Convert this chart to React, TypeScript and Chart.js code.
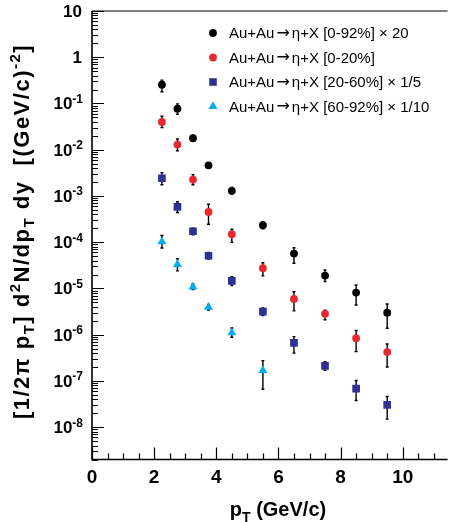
import React, { useEffect, useRef } from "react";
import { Chart, registerables } from "chart.js";

Chart.register(...registerables);

// ---- data ----
const pT = [2.25, 2.75, 3.25, 3.75, 4.5, 5.5, 6.5, 7.5, 8.5, 9.5];
const pTPeripheral = [2.25, 2.75, 3.25, 3.75, 4.5, 5.5];

const mbVals = [0.255, 0.0773, 0.0177, 0.00461, 0.00129, 2.33e-4, 5.67e-5, 1.9e-5, 8.15e-6, 3.0e-6];
const mbHi = [0.32, 0.098, 0.0205, 0.0052, 0.00152, 2.75e-4, 7.6e-5, 2.5e-5, 1.19e-5, 4.6e-6];
const mbLo = [0.18, 0.058, 0.0155, 0.004, 0.0011, 1.95e-4, 3.5e-5, 1.41e-5, 4.4e-6, 1.38e-6];

const centralVals = [0.04, 0.0129, 0.00226, 4.52e-4, 1.49e-4, 2.74e-5, 5.94e-6, 2.82e-6, 8.4e-7, 4.2e-7];
const centralHi = [0.053, 0.017, 0.0029, 6.6e-4, 1.9e-4, 3.6e-5, 8.5e-6, 3.4e-6, 1.23e-6, 6.3e-7];
const centralLo = [0.03, 0.0095, 0.00175, 2.45e-4, 1.0e-4, 1.87e-5, 3.27e-6, 2.1e-6, 4.3e-7, 2.0e-7];

const midVals = [2.42e-3, 5.8e-4, 1.73e-4, 5.1e-5, 1.46e-5, 3.16e-6, 6.65e-7, 2.12e-7, 6.84e-8, 3.04e-8];
const midHi = [3.2e-3, 7.5e-4, 2.0e-4, 6.0e-5, 1.8e-5, 3.8e-6, 9.1e-7, 2.6e-7, 1.02e-7, 4.6e-8];
const midLo = [1.75e-3, 4.4e-4, 1.45e-4, 4.3e-5, 1.15e-5, 2.6e-6, 4.0e-7, 1.7e-7, 3.77e-8, 1.49e-8];

const periphVals = [1.03e-4, 3.3e-5, 1.08e-5, 3.93e-6, 1.11e-6, 1.68e-7];
const periphHi = [1.4e-4, 4.4e-5, 1.25e-5, 4.5e-6, 1.4e-6, 2.75e-7];
const periphLo = [7.5e-5, 2.4e-5, 9.5e-6, 3.4e-6, 8.8e-7, 6.6e-8];

const seriesLabels = [
  "Au+Au\u2192\u03b7+X [0-92%] \u00d7 20",
  "Au+Au\u2192\u03b7+X [0-20%]",
  "Au+Au\u2192\u03b7+X [20-60%] \u00d7 1/5",
  "Au+Au\u2192\u03b7+X [60-92%] \u00d7 1/10",
];
const seriesColors = ["#000000", "#e8282e", "#2e3192", "#00aeef"];
const seriesStyles = ["circle", "circle", "rect", "triangle"];

const xMajorTicks = [0, 2, 4, 6, 8, 10];
const xMinorStep = 0.5;
const yDecades = [1, 0, -1, -2, -3, -4, -5, -6, -7, -8];

const X_MIN = 0;
const X_MAX = 11.38;
const Y_MIN = 2e-9;
const Y_MAX = 10;

const FONT = "'Liberation Sans', Arial, Helvetica, sans-serif";
const ARROW_FONT = "'DejaVu Sans', sans-serif";

function drawMarker(ctx: CanvasRenderingContext2D, style: string, x: number, y: number, color: string) {
  ctx.fillStyle = color;
  ctx.beginPath();
  if (style === "circle") {
    ctx.arc(x, y, 3.9, 0, Math.PI * 2);
  } else if (style === "rect") {
    ctx.rect(x - 3.8, y - 3.8, 7.6, 7.6);
  } else {
    const r = 5.2;
    ctx.moveTo(x, y - r);
    ctx.lineTo(x + r * 0.866, y + r * 0.5);
    ctx.lineTo(x - r * 0.866, y + r * 0.5);
    ctx.closePath();
  }
  ctx.fill();
}

function drawSegments(
  ctx: CanvasRenderingContext2D,
  segs: { t: string; s: number }[],
  size: number,
  startX: number,
  baseY: number,
  measureOnly = false,
  subDy = 0.3
) {
  let cx = startX;
  for (const seg of segs) {
    const fs = seg.s === 0 ? size : Math.round(size * 0.7);
    ctx.font = `bold ${fs}px ${FONT}`;
    const dy = seg.s === 1 ? -size * 0.42 : seg.s === -1 ? size * subDy : 0;
    if (!measureOnly) ctx.fillText(seg.t, cx, baseY + dy);
    cx += ctx.measureText(seg.t).width;
  }
  return cx - startX;
}

const customPlugin = {
  id: "rootStyle",
  beforeDatasetsDraw(chart: any) {
    const { ctx } = chart;
    const xs = chart.scales.x;
    const ys = chart.scales.y;
    ctx.save();
    ctx.strokeStyle = "#000";
    ctx.lineWidth = 1.4;
    chart.data.datasets.forEach((ds: any) => {
      ds.data.forEach((p: any, i: number) => {
        const px = xs.getPixelForValue(p.x);
        const yh = ys.getPixelForValue(ds.errHi[i]);
        const yl = ys.getPixelForValue(ds.errLo[i]);
        ctx.beginPath();
        ctx.moveTo(px, yh);
        ctx.lineTo(px, yl);
        ctx.moveTo(px - 1.5, yh);
        ctx.lineTo(px + 1.5, yh);
        ctx.moveTo(px - 1.5, yl);
        ctx.lineTo(px + 1.5, yl);
        ctx.stroke();
      });
    });
    ctx.restore();
  },
  afterDraw(chart: any) {
    const { ctx, chartArea } = chart;
    const xs = chart.scales.x;
    const ys = chart.scales.y;
    const L = chartArea.left;
    const R = chartArea.right;
    const T = chartArea.top;
    const B = chartArea.bottom;
    ctx.save();
    ctx.strokeStyle = "#000";
    ctx.fillStyle = "#000";

    // frame
    ctx.lineWidth = 1.6;
    ctx.beginPath();
    ctx.moveTo(L, T);
    ctx.lineTo(L, B);
    ctx.lineTo(R + 2, B);
    ctx.stroke();
    ctx.lineWidth = 1.2;
    ctx.beginPath();
    ctx.moveTo(L, T);
    ctx.lineTo(R + 2, T);
    ctx.stroke();

    // x ticks
    ctx.lineWidth = 1.2;
    ctx.beginPath();
    for (let v = X_MIN; v <= X_MAX + 1e-9; v += xMinorStep) {
      const px = Math.round(xs.getPixelForValue(v)) + 0.5;
      const major = xMajorTicks.some((m) => Math.abs(m - v) < 1e-6);
      const len = major ? 12 : 6;
      ctx.moveTo(px, B);
      ctx.lineTo(px, B - len);
    }
    ctx.stroke();

    // y ticks
    ctx.beginPath();
    for (let d = -9; d <= 1; d++) {
      for (let m = 1; m <= 9; m++) {
        const v = m * Math.pow(10, d);
        if (v < Y_MIN * 0.999 || v > Y_MAX * 1.001) continue;
        const py = Math.round(ys.getPixelForValue(v)) + 0.5;
        const len = m === 1 ? 12 : 6;
        ctx.moveTo(L, py);
        ctx.lineTo(L + len, py);
      }
    }
    ctx.stroke();

    // x labels
    ctx.font = `bold 19px ${FONT}`;
    ctx.textAlign = "center";
    ctx.textBaseline = "alphabetic";
    xMajorTicks.forEach((v) => {
      ctx.fillText(String(v), xs.getPixelForValue(v), B + 23.5);
    });

    // y labels
    const labelRight = L - 10;
    yDecades.forEach((e) => {
      const py = ys.getPixelForValue(Math.pow(10, e));
      ctx.textAlign = "right";
      if (e === 1 || e === 0) {
        ctx.font = `bold 17px ${FONT}`;
        ctx.fillText(e === 1 ? "10" : "1", labelRight, py + 6);
      } else {
        ctx.font = `bold 12px ${FONT}`;
        const sup = String(e);
        const supW = ctx.measureText(sup).width;
        ctx.fillText(sup, labelRight + 1, py - 0.5);
        ctx.font = `bold 17px ${FONT}`;
        ctx.fillText("10", labelRight + 1 - supW, py + 6);
      }
    });

    // x title
    ctx.textAlign = "left";
    const xSegs = [
      { t: "p", s: 0 },
      { t: "T", s: -1 },
      { t: " (GeV/c)", s: 0 },
    ];
    const xw = drawSegments(ctx, xSegs, 20, 0, 0, true);
    drawSegments(ctx, xSegs, 20, 278 - xw / 2, 516);

    // y title
    const ySegs = [
      { t: "[1/2\u03c0 p", s: 0 },
      { t: "T", s: -1 },
      { t: "] d", s: 0 },
      { t: "2", s: 1 },
      { t: "N/dp", s: 0 },
      { t: "T", s: -1 },
      { t: " dy  [(GeV/c)", s: 0 },
      { t: "-2", s: 1 },
      { t: "]", s: 0 },
    ];
    ctx.save();
    ctx.translate(29, 231.5);
    ctx.rotate(-Math.PI / 2);
    ctx.textAlign = "left";
    (ctx as any).letterSpacing = "1.5px";
    const yw = drawSegments(ctx, ySegs, 22, 0, 0, true, 0.22);
    drawSegments(ctx, ySegs, 22, -yw / 2, 0, false, 0.22);
    (ctx as any).letterSpacing = "0px";
    ctx.restore();

    // legend
    const rowsY = [33, 57.5, 82, 106.5];
    chart.data.datasets.forEach((ds: any, i: number) => {
      drawMarker(ctx, ds.pointStyle, 213, rowsY[i], ds.backgroundColor);
      ctx.fillStyle = "#000";
      ctx.textAlign = "left";
      ctx.textBaseline = "middle";
      const [pre, post] = String(ds.label).split("\u2192");
      let cx = 229;
      ctx.font = `15px ${FONT}`;
      ctx.fillText(pre, cx, rowsY[i] + 1);
      cx += ctx.measureText(pre).width + 2;
      ctx.font = `16px ${ARROW_FONT}`;
      ctx.fillText("\u2192", cx, rowsY[i] + 0.5);
      cx += ctx.measureText("\u2192").width + 2;
      ctx.font = `15px ${FONT}`;
      ctx.fillText(post, cx, rowsY[i] + 1);
    });
    ctx.restore();
  },
};

function makeDataset(i: number, xs: number[], vals: number[], hi: number[], lo: number[]) {
  const style = seriesStyles[i];
  const r = style === "circle" ? 3.9 : style === "rect" ? 5.4 : 5.2;
  return {
    label: seriesLabels[i],
    data: xs.map((x, k) => ({ x, y: vals[k] })),
    errHi: hi,
    errLo: lo,
    backgroundColor: seriesColors[i],
    borderColor: seriesColors[i],
    borderWidth: 0,
    pointStyle: style,
    pointRadius: r,
    pointHoverRadius: r,
    showLine: false,
  };
}

export default function App() {
  const ref = useRef<HTMLCanvasElement | null>(null);
  useEffect(() => {
    if (!ref.current) return;
    const chart = new Chart(ref.current, {
      type: "scatter",
      data: {
        datasets: [
          makeDataset(0, pT, mbVals, mbHi, mbLo),
          makeDataset(1, pT, centralVals, centralHi, centralLo),
          makeDataset(2, pT, midVals, midHi, midLo),
          makeDataset(3, pTPeripheral, periphVals, periphHi, periphLo),
        ] as any,
      },
      options: {
        responsive: false,
        animation: false,
        layout: { padding: { top: 11, right: 0, left: 0, bottom: 0 } },
        plugins: { legend: { display: false }, tooltip: { enabled: false } },
        scales: {
          x: {
            type: "linear",
            min: X_MIN,
            max: X_MAX,
            grid: { display: false },
            border: { display: false },
            ticks: { display: false },
            afterFit: (s: any) => {
              s.height = 62.5;
            },
          },
          y: {
            type: "logarithmic",
            min: Y_MIN,
            max: Y_MAX,
            grid: { display: false },
            border: { display: false },
            ticks: { display: false },
            afterFit: (s: any) => {
              s.width = 92;
            },
          },
        },
      } as any,
      plugins: [customPlugin],
    });
    return () => chart.destroy();
  }, []);
  return (
    <div style={{ position: "absolute", left: 0, top: 0, width: 451, height: 522 }}>
      <canvas ref={ref} width={451} height={522} style={{ display: "block" }} />
    </div>
  );
}
